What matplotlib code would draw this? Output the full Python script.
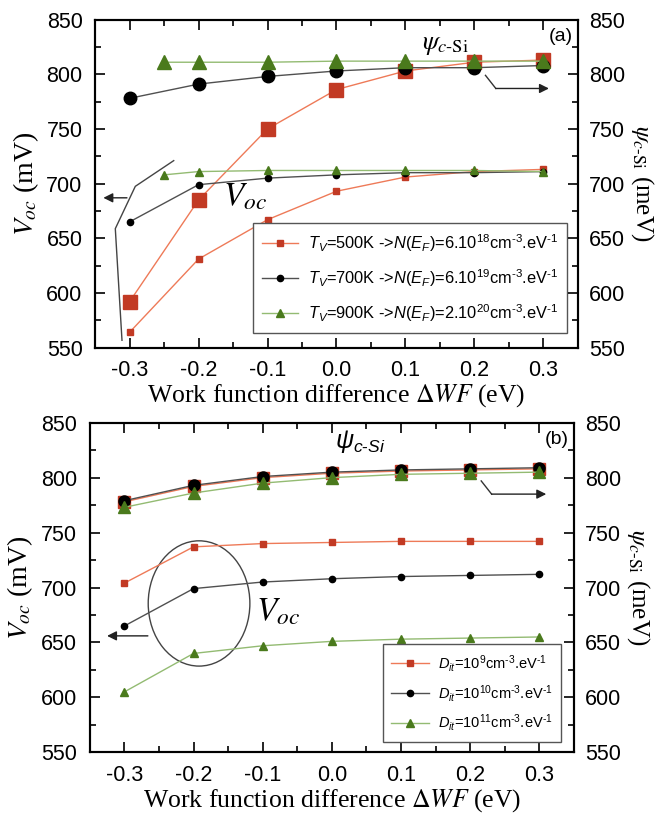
import numpy as np
import matplotlib
matplotlib.use("Agg")
import matplotlib.pyplot as plt
from matplotlib.font_manager import FontProperties
from matplotlib.patches import Ellipse

plt.rcParams["font.family"] = "Liberation Sans"
plt.rcParams["mathtext.fontset"] = "custom"
plt.rcParams["mathtext.rm"] = "Liberation Sans"
plt.rcParams["mathtext.it"] = "Liberation Sans:italic"
plt.rcParams["mathtext.bf"] = "Liberation Sans:bold"

# ---- data, panel (a) ----
wf = [-0.3, -0.2, -0.1, 0.0, 0.1, 0.2, 0.3]
wf_900 = [-0.25, -0.2, -0.1, 0.0, 0.1, 0.2, 0.3]

psi_a_500 = [592, 685, 750, 786, 803, 811, 813]
psi_a_700 = [778, 791, 798, 803, 806, 806, 808]
psi_a_900 = [811, 811, 811, 812, 812, 812, 812]

voc_a_500 = [564, 631, 667, 693, 706, 711, 713]
voc_a_700 = [665, 699, 705, 708, 710, 710, 711]
voc_a_900 = [708, 711, 712, 712, 712, 712, 711]

labels_a = [
    r"$T_V$=500K ->$N(E_F)$=6.10$^{18}$cm$^{\text{-}3}$.eV$^{\text{-}1}$",
    r"$T_V$=700K ->$N(E_F)$=6.10$^{19}$cm$^{\text{-}3}$.eV$^{\text{-}1}$",
    r"$T_V$=900K ->$N(E_F)$=2.10$^{20}$cm$^{\text{-}3}$.eV$^{\text{-}1}$",
]

# ---- data, panel (b) ----
psi_b_9 = [778, 792, 800, 804, 806, 807, 808]
psi_b_10 = [779, 793, 801, 805, 807, 808, 809]
psi_b_11 = [773, 786, 795, 800, 803, 804, 805]

voc_b_9 = [704, 737, 740, 741, 742, 742, 742]
voc_b_10 = [665, 699, 705, 708, 710, 711, 712]
voc_b_11 = [605, 640, 647, 651, 653, 654, 655]

labels_b = [
    r"$D_{it}$=10$^{9}$cm$^{\text{-}3}$.eV$^{\text{-}1}$",
    r"$D_{it}$=10$^{10}$cm$^{\text{-}3}$.eV$^{\text{-}1}$",
    r"$D_{it}$=10$^{11}$cm$^{\text{-}3}$.eV$^{\text{-}1}$",
]

xticks = [-0.3, -0.2, -0.1, 0.0, 0.1, 0.2, 0.3]
yticks = [550, 600, 650, 700, 750, 800, 850]

red_m, red_l = "#c23a24", "#ee7a58"
blk_m, blk_l = "black", "#505050"
grn_m, grn_l = "#4a7a1c", "#93bb72"

serif = "Liberation Serif"


def style_axes(ax, ax2):
    for a in (ax, ax2):
        a.set_xlim(-0.35, 0.35)
        a.set_ylim(550, 850)
        a.set_yticks(yticks)
        a.set_yticks(np.arange(550, 851, 25), minor=True)
        for s in a.spines.values():
            s.set_linewidth(1.5)
    ax.set_xticks(xticks)
    ax.set_xticklabels(["%.1f" % v for v in xticks])
    ax.set_xticks(np.arange(-0.35, 0.351, 0.05), minor=True)
    ax.tick_params(which="both", direction="in", top=True, width=1.2, labelsize=15.5, pad=9)
    ax.tick_params(which="major", length=7)
    ax.tick_params(which="minor", length=4)
    ax2.tick_params(which="both", direction="in", width=1.2, labelsize=15.5, pad=8)
    ax2.tick_params(which="major", length=7)
    ax2.tick_params(which="minor", length=4)
    ax.set_xlabel(r"Work function difference $\Delta WF$ (eV)", family=serif,
                  fontsize=18.5, math_fontfamily="stix", labelpad=1)
    ax.set_ylabel(r"$V_{oc}$ (mV)", family=serif, fontsize=20,
                  math_fontfamily="stix", labelpad=4)
    ax2.set_ylabel(r"$\psi_{c\mathrm{\text{-}Si}}$ (meV)", family=serif, fontsize=18,
                   math_fontfamily="stix", rotation=270, labelpad=22)


def arrow(ax, path, end):
    xs = [p[0] for p in path]
    ys = [p[1] for p in path]
    ax.plot(xs, ys, color="#333333", lw=1.0, zorder=1)
    ax.annotate("", xy=end, xytext=path[-1],
                arrowprops=dict(arrowstyle="-|>", color="#222222", lw=1.0,
                                mutation_scale=14, shrinkA=0, shrinkB=0))


fig = plt.figure(figsize=(6.65, 8.16), dpi=100)

# ---------------- panel (a) ----------------
ax = fig.add_axes([0.143, 0.574, 0.726, 0.402])
ax2 = ax.twinx()
style_axes(ax, ax2)

ax.plot(wf, psi_a_500, "-s", color=red_l, mfc=red_m, mec=red_m, ms=10, lw=1)
ax.plot(wf, psi_a_700, "-o", color=blk_l, mfc=blk_m, mec=blk_m, ms=9, lw=1)
ax.plot(wf_900, psi_a_900, "-^", color=grn_l, mfc=grn_m, mec=grn_m, ms=10, lw=1)

h1, = ax.plot(wf, voc_a_500, "-s", color=red_l, mfc=red_m, mec=red_m, ms=4.5, lw=1)
h2, = ax.plot(wf, voc_a_700, "-o", color=blk_l, mfc=blk_m, mec=blk_m, ms=4.5, lw=1)
h3, = ax.plot(wf_900, voc_a_900, "-^", color=grn_l, mfc=grn_m, mec=grn_m, ms=5.5, lw=1)

leg = ax.legend([h1, h2, h3], labels_a, loc="lower right", bbox_to_anchor=(0.978, 0.046),
                borderaxespad=0, fancybox=False, edgecolor="#555555", framealpha=1,
                prop=FontProperties(family="Liberation Sans", size=11.8, math_fontfamily="custom"),
                handlelength=2.2, handletextpad=0.6, labelspacing=0.8, borderpad=0.55)
leg.get_frame().set_linewidth(1.0)

ax.text(0.124, 823, r"$\psi_{c\mathrm{\text{-}Si}}$", family=serif, fontsize=19,
        math_fontfamily="stix")
ax.text(0.99, 0.975, "(a)", transform=ax.transAxes, ha="right", va="top", fontsize=14)
ax.text(-0.165, 680, r"$V_{oc}$", fontsize=24, math_fontfamily="stix")

arrow(ax, [(0.216, 799), (0.231, 787)], (0.308, 787))
ax.plot([-0.236, -0.2917, -0.3207, -0.311], [721, 697.5, 658.8, 556.7],
        color="#444444", lw=1.0)
arrow(ax, [(-0.3038, 687)], (-0.338, 687))

# ---------------- panel (b) ----------------
bx = fig.add_axes([0.135, 0.078, 0.728, 0.404])
bx2 = bx.twinx()
style_axes(bx, bx2)

bx.plot(wf, psi_b_9, "-s", color=red_l, mfc=red_m, mec=red_m, ms=8, lw=1)
bx.plot(wf, psi_b_10, "-o", color=blk_l, mfc=blk_m, mec=blk_m, ms=8, lw=1)
bx.plot(wf, psi_b_11, "-^", color=grn_l, mfc=grn_m, mec=grn_m, ms=9, lw=1)

g1, = bx.plot(wf, voc_b_9, "-s", color=red_l, mfc=red_m, mec=red_m, ms=4.5, lw=1)
g2, = bx.plot(wf, voc_b_10, "-o", color=blk_l, mfc=blk_m, mec=blk_m, ms=4.5, lw=1)
g3, = bx.plot(wf, voc_b_11, "-^", color=grn_l, mfc=grn_m, mec=grn_m, ms=5.5, lw=1)

leg = bx.legend([g1, g2, g3], labels_b, loc="lower right", bbox_to_anchor=(0.974, 0.031),
                borderaxespad=0, fancybox=False, edgecolor="#555555", framealpha=1,
                prop=FontProperties(family="Liberation Sans", size=10.5, math_fontfamily="custom"),
                handlelength=2.6, handletextpad=0.6, labelspacing=0.6, borderpad=0.6)
leg.get_frame().set_linewidth(1.0)

bx.text(0.005, 827, r"$\psi_{c\text{-}Si}$", fontsize=18, math_fontfamily="custom")
bx.text(0.99, 0.975, "(b)", transform=bx.transAxes, ha="right", va="top", fontsize=14)
bx.text(-0.11, 670, r"$V_{oc}$", fontsize=24, math_fontfamily="stix")

bx.add_patch(Ellipse((-0.192, 685.5), 0.147, 114, fill=False, ec="#444444", lw=1.0))
arrow(bx, [(0.216, 797), (0.231, 785)], (0.31, 785))
arrow(bx, [(-0.266, 656)], (-0.325, 656))

fig.savefig("out.png", dpi=100)
